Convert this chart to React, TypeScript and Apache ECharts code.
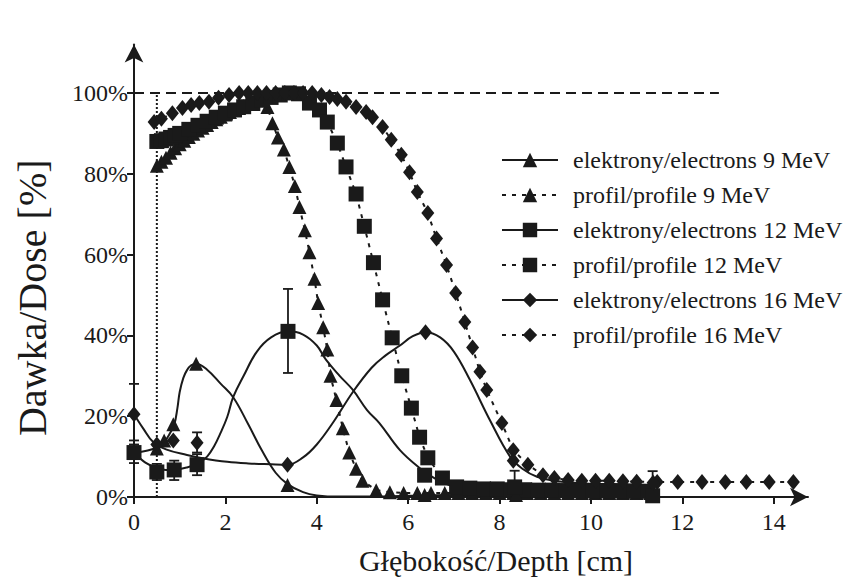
import React, { useEffect, useRef } from 'react';
import * as echarts from 'echarts';

const xTicks = [0, 2, 4, 6, 8, 10, 12, 14];
const yTicks = [0, 20, 40, 60, 80, 100];

const seriesNames = [
  'elektrony/electrons 9 MeV',
  'profil/profile 9 MeV',
  'elektrony/electrons 12 MeV',
  'profil/profile 12 MeV',
  'elektrony/electrons 16 MeV',
  'profil/profile 16 MeV',
];

const profile9 = [
  [0.5, 82], [0.6, 83], [0.7, 84], [0.8, 85.2], [0.9, 86.3], [1.0, 87.3], [1.1, 88.2], [1.2, 89.1],
  [1.3, 89.9], [1.4, 90.7], [1.5, 91.4], [1.6, 92.1], [1.7, 92.8], [1.8, 93.5], [1.9, 94.1], [2.0, 94.7],
  [2.1, 95.3], [2.2, 95.8], [2.3, 96.3], [2.4, 96.8], [2.5, 97.3], [2.6, 97.8], [2.7, 98.3], [2.8, 98.6],
  [2.92, 96.5], [3.03, 92.5], [3.15, 89], [3.28, 86], [3.4, 81.7], [3.52, 77], [3.62, 71.8], [3.74, 66],
  [3.84, 60.6], [3.95, 54], [4.03, 48], [4.14, 42], [4.23, 36.5], [4.3, 30], [4.43, 24], [4.57, 17],
  [4.71, 11], [4.86, 7], [5.0, 4], [5.3, 1.7], [5.6, 1.2], [5.9, 1.0], [6.2, 1.0], [6.5, 1.0], [6.8, 1.0],
  [7.1, 1.0], [7.4, 1.0], [7.7, 1.0], [8.0, 1.0], [8.3, 1.0], [8.6, 1.0], [8.9, 1.0], [9.2, 1.0], [9.5, 1.0],
  [9.8, 1.0], [10.1, 1.0], [10.4, 1.0], [10.7, 1.0], [11.0, 1.0], [11.3, 1.0],
];

const profile12 = [
  [0.5, 88], [0.6, 88.2], [0.7, 88.6], [0.8, 89], [0.9, 89.5], [1.0, 90], [1.2, 91], [1.4, 92], [1.6, 93],
  [1.8, 94], [2.0, 95], [2.2, 95.8], [2.4, 96.6], [2.6, 97.4], [2.8, 98.2], [3.0, 98.9], [3.2, 99.5],
  [3.4, 100], [3.6, 99.8], [3.84, 97.5], [4.06, 95.8], [4.23, 92.8], [4.45, 87.6], [4.64, 81.7], [4.86, 75],
  [5.04, 67], [5.24, 58], [5.44, 48.8], [5.65, 39.4], [5.86, 30], [6.07, 22], [6.25, 14.8], [6.43, 9.7],
  [6.75, 4.7], [7.06, 2.5], [7.35, 2.2], [7.65, 2], [7.95, 2], [8.25, 1.8], [8.55, 1.8], [8.85, 1.7],
  [9.15, 1.7], [9.45, 1.6], [9.75, 1.6], [10.05, 1.5], [10.35, 1.5], [10.65, 1.5], [10.95, 1.4], [11.25, 1.4],
];

const profile16 = [
  [0.44, 92.8], [0.6, 93.6], [0.84, 95], [1.06, 96.3], [1.25, 97], [1.43, 97.5], [1.64, 97.8], [1.85, 98.8],
  [2.08, 99.5], [2.3, 100], [2.5, 100], [2.7, 100], [2.9, 100], [3.1, 100], [3.3, 100], [3.5, 100], [3.7, 100],
  [3.9, 100], [4.1, 99.5], [4.28, 99], [4.45, 98.5], [4.64, 97.8], [4.86, 96.5], [5.08, 95.3], [5.22, 94],
  [5.44, 91.6], [5.63, 88.4], [5.85, 84.7], [6.03, 80.4], [6.2, 75.5], [6.43, 70.3], [6.62, 64], [6.84, 57.4],
  [7.04, 50.5], [7.24, 43.3], [7.41, 37], [7.57, 31], [7.72, 26.5], [8.05, 18.3], [8.3, 11.6], [8.62, 8],
  [8.95, 5.4], [9.2, 4.7], [9.5, 4.2], [9.8, 4], [10.1, 4], [10.4, 4], [10.7, 3.9], [11.0, 3.8], [11.45, 3.7],
  [11.9, 3.7], [12.43, 3.7], [12.94, 3.7], [13.4, 3.7], [13.9, 3.7], [14.43, 3.7],
];

const curve9 = [
  [0, 11], [0.3, 11.5], [0.55, 12.5], [0.66, 13.5], [0.8, 16], [0.88, 17.8], [0.95, 22], [1.0, 26],
  [1.08, 29.5], [1.16, 31.4], [1.25, 32.6], [1.36, 33], [1.6, 31.5], [1.9, 28], [2.17, 24.7], [2.5, 18],
  [2.8, 11.5], [3.1, 6], [3.36, 3.2], [3.7, 1.2], [4.0, 0.4], [4.5, 0.1], [5.0, 0.1], [6.0, 0.3], [7.0, 0.5],
  [8.36, 0.5], [9.5, 0.5], [11.36, 0.5],
];

const curve12 = [
  [0, 11], [0.25, 8.5], [0.5, 7.2], [0.7, 6.7], [0.9, 6.8], [1.15, 7.3], [1.4, 8.3], [1.6, 10], [1.75, 12.5],
  [1.9, 16], [2.04, 19.8], [2.17, 24.7], [2.4, 30], [2.69, 36], [3.0, 39.5], [3.37, 41], [3.7, 40.2],
  [4.0, 37.5], [4.2, 34], [4.5, 30], [4.79, 26.5], [5.1, 21.5], [5.37, 18.3], [5.82, 11.6], [6.25, 7.2],
  [6.6, 4.5], [7.0, 2.5], [7.5, 1.0], [8.0, 0.4], [9.0, 0.2], [10.0, 0.2], [11.35, 0.2],
];

const curve16 = [
  [0, 20.5], [0.2, 17], [0.42, 13.6], [0.7, 11.8], [1.16, 10.4], [1.5, 9.6], [2.04, 8.7], [2.5, 8.3],
  [3.0, 8.1], [3.36, 8], [3.7, 9.8], [4.0, 13], [4.36, 18.5], [4.79, 26], [5.2, 32], [5.5, 35], [5.82, 37.5],
  [6.1, 39.8], [6.38, 40.8], [6.7, 39.5], [7.0, 36], [7.35, 29], [7.79, 19], [8.23, 10], [8.5, 7], [8.82, 5],
  [9.2, 4], [9.6, 3.5], [10.0, 3.3], [11.36, 3],
];

const electrons9 = [[0, 11], [0.5, 12], [0.66, 14], [0.86, 18], [1.36, 33], [3.36, 3], [6.36, 0.5], [8.36, 0.5], [11.36, 0.5]];
const electrons12 = [[0, 11], [0.5, 6.2], [0.88, 6.7], [1.38, 8], [3.37, 41], [6.36, 5.4], [8.33, 2.5], [11.35, 0.3]];
const electrons16 = [[0, 20.5], [0.5, 13], [0.86, 14], [1.38, 13.4], [3.36, 8], [6.38, 40.8], [8.3, 9], [11.36, 3.5]];

const errors12 = [[0, 8.4, 14], [0.5, 4.2, 8.2], [0.88, 4.2, 9], [1.38, 5.4, 10.6], [3.37, 30.7, 51.5], [8.33, 0, 6.5], [11.35, 0, 6.4]];
const errors16 = [[0, 13, 28], [1.38, 11, 16]];

const refLine100 = [[0, 100], [12.8, 100]];
const refLineField = [[0.5, 0], [0.5, 100]];

const INK = '#1a1a1a';
const FONT = "'Liberation Serif', 'Times New Roman', serif";

export default function App() {
  const ref = useRef<HTMLDivElement>(null);

  useEffect(() => {
    if (!ref.current) return;
    const chart = echarts.init(ref.current, null, { renderer: 'svg' });

    const solid = { color: INK, width: 2, type: 'solid' as const };
    const dotted = { color: INK, width: 2, type: [4, 6] as any };
    const mark = { color: INK, opacity: 1 };

    const errSeries = (data: number[][]) => ({
      type: 'custom',
      data,
      encode: { x: 0, y: [1, 2] },
      clip: false,
      z: 4,
      silent: true,
      renderItem: (params: any, api: any) => {
        const x = api.value(0);
        const top = api.coord([x, api.value(2)]);
        const bot = api.coord([x, api.value(1)]);
        const w = 5;
        const st = { stroke: INK, lineWidth: 1.8 };
        return {
          type: 'group',
          children: [
            { type: 'line', shape: { x1: top[0], y1: top[1], x2: bot[0], y2: bot[1] }, style: st },
            { type: 'line', shape: { x1: top[0] - w, y1: top[1], x2: top[0] + w, y2: top[1] }, style: st },
            { type: 'line', shape: { x1: bot[0] - w, y1: bot[1], x2: bot[0] + w, y2: bot[1] }, style: st },
          ],
        };
      },
    });

    const option: any = {
      animation: false,
      backgroundColor: '#ffffff',
      grid: { left: 134, right: 43, top: 44.5, bottom: 83, containLabel: false },
      legend: {
        data: seriesNames,
        orient: 'vertical',
        left: 496,
        top: 143,
        itemWidth: 56,
        itemHeight: 18,
        itemGap: 11,
        selectedMode: false,
        textStyle: { fontFamily: FONT, fontSize: 24, color: INK, lineHeight: 24, padding: [0, 0, 0, 10] },
      },
      xAxis: {
        type: 'value',
        min: 0,
        max: 14.75,
        name: 'Głębokość/Depth [cm]',
        nameLocation: 'middle',
        nameGap: 48,
        nameTextStyle: { fontFamily: FONT, fontSize: 30, color: INK, padding: [0, 0, 0, 50] },
        axisLine: { lineStyle: { color: INK, width: 2 }, symbol: ['none', 'arrow'], symbolSize: [14, 18] },
        axisTick: { show: true, length: 7, lineStyle: { color: INK, width: 2 }, customValues: xTicks },
        axisLabel: { fontFamily: FONT, fontSize: 24, color: INK, margin: 13, customValues: xTicks },
        splitLine: { show: false },
      },
      yAxis: {
        type: 'value',
        min: 0,
        max: 112,
        name: 'Dawka/Dose [%]',
        nameLocation: 'middle',
        nameGap: 82,
        nameRotate: 90,
        nameTextStyle: { fontFamily: FONT, fontSize: 40, color: INK, padding: [0, 54, 0, 0] },
        axisLine: { lineStyle: { color: INK, width: 2 }, symbol: ['none', 'arrow'], symbolSize: [14, 18] },
        axisTick: { show: true, length: 7, lineStyle: { color: INK, width: 2 }, customValues: yTicks },
        axisLabel: { fontFamily: FONT, fontSize: 24, color: INK, margin: 6, formatter: '{value}%', customValues: yTicks },
        splitLine: { show: false },
      },
      series: [
        {
          name: 'ref100', type: 'line', data: refLine100, symbol: 'none', silent: true, z: 1,
          lineStyle: { color: INK, width: 2, type: [10, 6] },
        },
        {
          name: 'refField', type: 'line', data: refLineField, symbol: 'none', silent: true, z: 1,
          lineStyle: { color: INK, width: 2, type: [2, 2] },
        },
        {
          name: seriesNames[0], type: 'line', data: curve9, smooth: 0.4, showSymbol: false,
          symbol: 'triangle', symbolSize: 14, itemStyle: mark, lineStyle: solid, z: 2,
        },
        {
          name: seriesNames[1], type: 'line', data: profile9, symbol: 'triangle', symbolSize: 14,
          showAllSymbol: true, itemStyle: mark, lineStyle: dotted, z: 3,
        },
        {
          name: seriesNames[2], type: 'line', data: curve12, smooth: 0.4, showSymbol: false,
          symbol: 'rect', symbolSize: 14, itemStyle: mark, lineStyle: solid, z: 2,
        },
        {
          name: seriesNames[3], type: 'line', data: profile12, symbol: 'rect', symbolSize: 15,
          showAllSymbol: true, itemStyle: mark, lineStyle: dotted, z: 3,
        },
        {
          name: seriesNames[4], type: 'line', data: curve16, smooth: 0.4, showSymbol: false,
          symbol: 'diamond', symbolSize: [13, 16], itemStyle: mark, lineStyle: solid, z: 2,
        },
        {
          name: seriesNames[5], type: 'line', data: profile16, symbol: 'diamond', symbolSize: [13, 16],
          showAllSymbol: true, itemStyle: mark, lineStyle: dotted, z: 3,
        },
        { name: 'pts9', type: 'scatter', data: electrons9, symbol: 'triangle', symbolSize: 14, itemStyle: mark, z: 5 },
        { name: 'pts12', type: 'scatter', data: electrons12, symbol: 'rect', symbolSize: 15, itemStyle: mark, z: 5 },
        { name: 'pts16', type: 'scatter', data: electrons16, symbol: 'diamond', symbolSize: [13, 16], itemStyle: mark, z: 5 },
        errSeries(errors12),
        errSeries(errors16),
      ],
    };

    chart.setOption(option);
    return () => chart.dispose();
  }, []);

  return (
    <div
      ref={ref}
      style={{ position: 'fixed', left: 0, top: 0, width: 851, height: 580, background: '#fff' }}
    />
  );
}
